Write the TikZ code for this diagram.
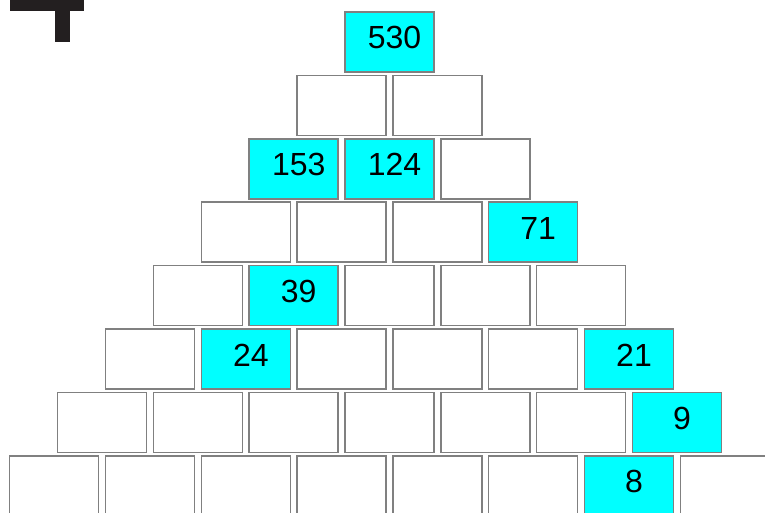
\documentclass[tikz,border=0pt]{standalone}
\usepackage{fontspec}
\setmainfont{Liberation Sans}
\definecolor{boxline}{RGB}{128,128,128}
\definecolor{cyanfill}{RGB}{0,255,255}
\definecolor{tdark}{RGB}{35,31,32}
\begin{document}
\begin{tikzpicture}[x=1pt,y=-1pt,
  brick/.style={draw=boxline,line width=1.5pt,fill=white,minimum width=89pt,minimum height=60pt,inner sep=0pt,
    font=\fontsize{32}{38}\selectfont,text height=23pt,text depth=9pt},
  hot/.style={brick,fill=cyanfill}]
\useasboundingbox (0,0) rectangle (765,513);
\clip (0,0) rectangle (765,513);
\fill[tdark] (10,-5) rectangle (84,11);
\fill[tdark] (55,-5) rectangle (70,42);
\foreach \k/\i in {1/0,1/1,2/2,3/0,3/1,3/2,4/0,4/2,4/3,4/4,5/0,5/2,5/3,5/4,
  6/0,6/1,6/2,6/3,6/4,6/5,7/0,7/1,7/2,7/3,7/4,7/5,7/7}
  \node[brick] (b-\k-\i) at ({389.5+95.8*(\i-0.5*\k)},{42+63.4*\k}) {};
\newcommand{\hotbox}[3]{\node[hot] (b-#1-#2) at ({389.5+95.8*(#2-0.5*#1)},{42+63.4*#1}) {\hspace*{10pt}#3};}
\hotbox{0}{0}{530}
\hotbox{2}{0}{153}
\hotbox{2}{1}{124}
\hotbox{3}{3}{71}
\hotbox{4}{1}{39}
\hotbox{5}{1}{24}
\hotbox{5}{5}{21}
\hotbox{6}{6}{9}
\hotbox{7}{6}{8}
\end{tikzpicture}
\end{document}
